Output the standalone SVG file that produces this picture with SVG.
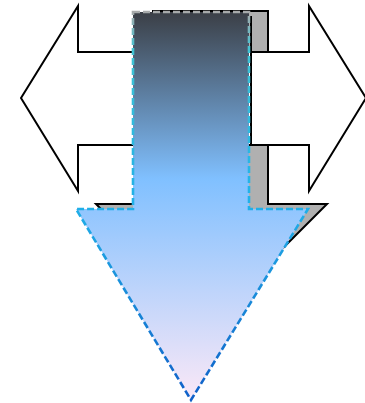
<svg xmlns="http://www.w3.org/2000/svg" width="365" height="403" viewBox="0 0 365 403">
  <style>
    .outline { stroke: #000; stroke-width: 2; stroke-linejoin: miter; }
    .shadow { fill: #b0b0b0; }
    .both { fill: #fff; }
    .down { fill: url(#fillGrad); stroke: url(#strokeGrad); stroke-width: 2.6; stroke-dasharray: 7 3; }
  </style>
  <defs>
    <linearGradient id="fillGrad" gradientUnits="userSpaceOnUse" x1="0" y1="12" x2="0" y2="400">
      <stop offset="0" stop-color="#3b3f46"/>
      <stop offset="0.43" stop-color="#80c0ff"/>
      <stop offset="1" stop-color="#fbe8f7"/>
    </linearGradient>
    <linearGradient id="strokeGrad" gradientUnits="userSpaceOnUse" x1="0" y1="12" x2="0" y2="400">
      <stop offset="0" stop-color="#a8aaaa"/>
      <stop offset="0.1" stop-color="#40c4d4"/>
      <stop offset="0.5" stop-color="#20b0e8"/>
      <stop offset="1" stop-color="#1060c8"/>
    </linearGradient>
  </defs>
  <g id="shadow-arrow">
    <polygon class="shadow outline" points="153,11 268,11 268,204 327,204 211,320 96,204 153,204"/>
  </g>
  <g id="double-arrow">
    <polygon class="both outline" points="21,98 78,6 78,52 309,52 309,6 366,98 309,191 309,145 78,145 78,191"/>
    <line class="outline" x1="251" y1="16" x2="251" y2="145"/>
  </g>
  <g id="down-arrow">
    <polygon class="down" points="133,12 249,12 249,209 308,209 191,400 76,209 133,209"/>
  </g>
</svg>
